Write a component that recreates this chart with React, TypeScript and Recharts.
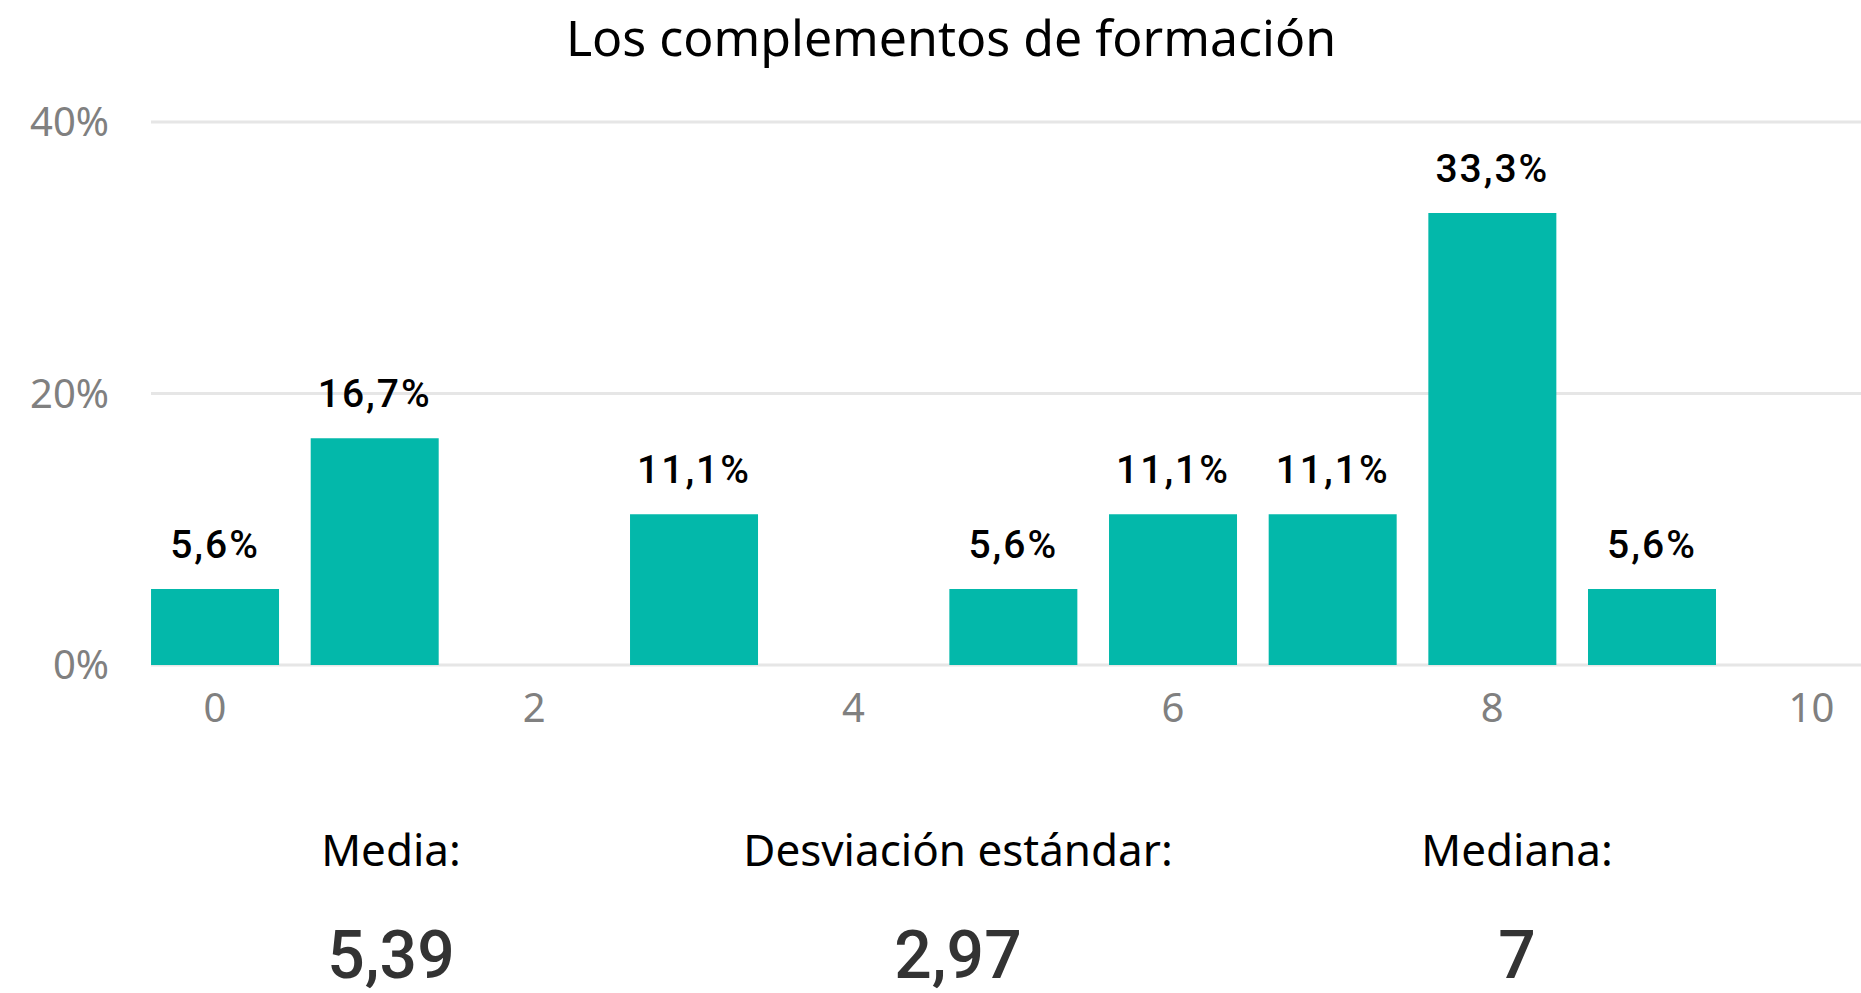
import React from 'react';
import { BarChart, Bar, XAxis, YAxis, CartesianGrid, LabelList } from 'recharts';

const scores = [0, 1, 2, 3, 4, 5, 6, 7, 8, 9, 10];
const shares = [5.6, 16.7, 0, 11.1, 0, 5.6, 11.1, 11.1, 33.3, 5.6, 0];
const xTicks = [0, 2, 4, 6, 8, 10];
const yTicks = [0, 20, 40];
const title = 'Los complementos de formación';
const statLabels = ['Media:', 'Desviación estándar:', 'Mediana:'];
const statValues = ['5,39', '2,97', '7'];
const statCenters = [391, 958, 1517];

const data = scores.map((s, i) => ({ score: s, share: shares[i] }));

const fmt = (v: any) => (v ? `${String(v).replace('.', ',')}%` : '');

export default function App() {
  return (
    <div style={{ position: 'absolute', left: 0, top: 0, width: 1861, height: 993, background: '#fff', overflow: 'hidden' }}>
      <div style={{ position: 'absolute', left: 951, top: 37, transform: 'translate(-50%,-50%)', fontFamily: '"Noto Sans", sans-serif', fontSize: 50, color: '#000', whiteSpace: 'nowrap' }}>
        {title}
      </div>
      <div style={{ position: 'absolute', left: 0, top: 0 }}>
        <BarChart width={1861} height={760} data={data} margin={{ top: 122, right: 0, left: 0, bottom: 0 }}>
          <CartesianGrid vertical={false} stroke="#e6e6e6" strokeWidth={3} />
          <XAxis
            dataKey="score"
            type="number"
            domain={[-0.4, 10.31]}
            allowDataOverflow
            ticks={xTicks}
            axisLine={false}
            tickLine={false}
            tickSize={0}
            tickMargin={29}
            height={95}
            tick={{ fill: '#808080', fontSize: 40, fontFamily: '"Noto Sans", sans-serif' }}
          />
          <YAxis
            domain={[0, 40]}
            ticks={yTicks}
            width={151}
            axisLine={false}
            tickLine={false}
            tickSize={0}
            tickMargin={42}
            tickFormatter={(v: number) => `${v}%`}
            tick={{ fill: '#808080', fontSize: 40, fontFamily: '"Noto Sans", sans-serif' }}
          />
          <Bar dataKey="share" fill="#03B8AA" barSize={128} isAnimationActive={false}>
            <LabelList
              dataKey="share"
              position="top"
              offset={31}
              formatter={fmt}
              style={{ fill: '#000', fontSize: 39, fontWeight: 500, fontFamily: 'Roboto, sans-serif', letterSpacing: 2 }}
            />
          </Bar>
        </BarChart>
      </div>
      {statLabels.map((l, i) => (
        <div key={l} style={{ position: 'absolute', left: statCenters[i], top: 849, transform: 'translate(-50%,-50%)', fontFamily: '"Noto Sans", sans-serif', fontSize: 44, color: '#000', whiteSpace: 'nowrap' }}>
          {l}
        </div>
      ))}
      {statValues.map((v, i) => (
        <div key={v} style={{ position: 'absolute', left: statCenters[i], top: 955, transform: 'translate(-50%,-50%)', fontFamily: 'Roboto, sans-serif', fontWeight: 500, fontSize: 66, color: '#333', whiteSpace: 'nowrap' }}>
          {v}
        </div>
      ))}
    </div>
  );
}
